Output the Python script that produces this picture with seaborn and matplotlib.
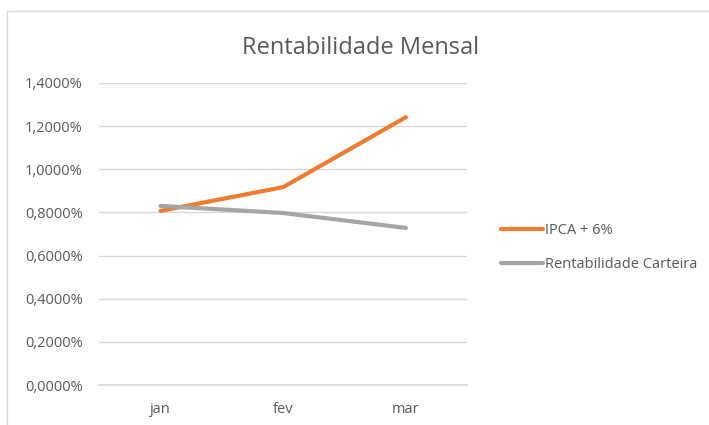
import pandas as pd
import matplotlib.pyplot as plt
import seaborn as sns
from matplotlib.ticker import FuncFormatter
from matplotlib.patches import Rectangle

# data
months = ['jan', 'fev', 'mar']
ipca = [0.807, 0.917, 1.241]
carteira = [0.830, 0.797, 0.728]
series_names = ['IPCA + 6%', 'Rentabilidade Carteira']

df = pd.DataFrame({
    'mes': months * 2,
    'valor': ipca + carteira,
    'serie': [series_names[0]] * 3 + [series_names[1]] * 3,
})

sns.set_theme(style='white')
plt.rcParams['font.family'] = ['Open Sans', 'DejaVu Sans']

fig = plt.figure(figsize=(7.09, 4.25), dpi=100)
ax = fig.add_axes([0.14, 0.094, 0.519, 0.711])

# chart frame like the spreadsheet border
fig.patches.append(Rectangle((7 / 709, -0.1), 1.1, 1 - 11 / 425 + 0.1,
                             transform=fig.transFigure, fill=False,
                             edgecolor='#D9D9D9', linewidth=1))

palette = {series_names[0]: '#ED7D31', series_names[1]: '#A5A5A5'}
sns.lineplot(data=df, x='mes', y='valor', hue='serie', palette=palette,
             linewidth=3, ax=ax, sort=False)

ax.set_xlim(-0.5, 2.5)
ax.set_ylim(0, 1.4)
ax.set_yticks([0, 0.2, 0.4, 0.6, 0.8, 1.0, 1.2, 1.4])
ax.yaxis.set_major_formatter(FuncFormatter(lambda v, p: f'{v:.4f}%'.replace('.', ',')))
ax.grid(axis='y', color='#D9D9D9', linewidth=1)
ax.set_axisbelow(True)
for s in ['top', 'right', 'left']:
    ax.spines[s].set_visible(False)
ax.spines['bottom'].set_color('#D9D9D9')
ax.tick_params(axis='y', length=0, labelsize=10.5, colors='#595959', pad=12)
ax.tick_params(axis='x', length=0, labelsize=10.5, colors='#595959', pad=12)
ax.set_xlabel('')
ax.set_ylabel('')

fig.text(0.509, 0.888, 'Rentabilidade Mensal',
         ha='center', va='center', fontsize=17, color='#595959')

handles, labels = ax.get_legend_handles_labels()
ax.get_legend().remove()
fig.legend(handles, labels, loc='center left', bbox_to_anchor=(0.688, 0.418),
           frameon=False, fontsize=10.5, labelcolor='#595959', handlelength=2.9,
           handletextpad=0.1, labelspacing=1.3)

plt.savefig('out.png', dpi=100)
